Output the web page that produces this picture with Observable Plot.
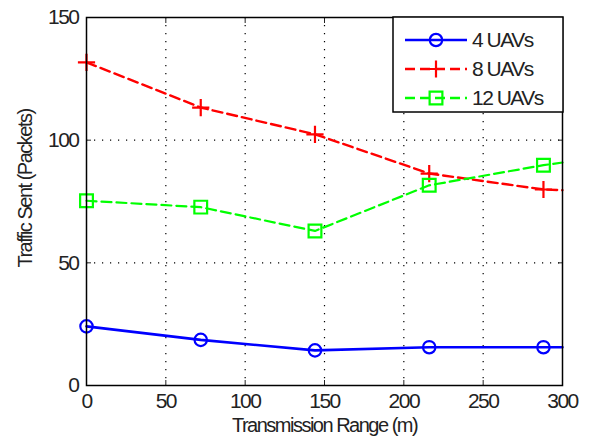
<!DOCTYPE html>
<html><head><meta charset="utf-8">
<script src="https://cdn.jsdelivr.net/npm/d3@7"></script>
<script src="https://cdn.jsdelivr.net/npm/@observablehq/plot@0.6"></script>
<style>
body{margin:0;background:#fff}
#chart{position:relative;width:589px;height:445px}
</style>
</head><body><div id="chart"></div>
<script>
// Data
const ranges = [0, 72, 144, 216, 288, 300];
const hasMarker = [true, true, true, true, true, false];
const uav4  = [24.1, 18.6, 14.3, 15.6, 15.6, 15.6];
const uav8  = [131.7, 113.3, 102.4, 86.4, 79.9, 79.6];
const uav12 = [75.3, 72.7, 63.0, 81.6, 89.8, 90.9];
const seriesNames = ["4 UAVs", "8 UAVs", "12 UAVs"];
const seriesColors = ["#0000ff", "#ff0000", "#00ff00"];
const xTicks = [0, 50, 100, 150, 200, 250, 300];
const yTicks = [0, 50, 100, 150];
const xLabel = "Transmission Range (m)";
const yLabel = "Traffic Sent (Packets)";

const FONT = "'Liberation Sans', Arial, sans-serif";
const FS = 21;
const LS = "-1.5px";

function rows(vals, name) {
  return ranges.map((x, i) => ({x, y: vals[i], series: name, marker: hasMarker[i]}));
}
const d4 = rows(uav4, seriesNames[0]);
const d8 = rows(uav8, seriesNames[1]);
const d12 = rows(uav12, seriesNames[2]);

const plot = Plot.plot({
  width: 589,
  height: 445,
  marginLeft: 86,
  marginRight: 27,
  marginTop: 17,
  marginBottom: 60,
  style: {fontFamily: FONT, fontSize: FS + "px", letterSpacing: LS, color: "#222", background: "#fff"},
  x: {domain: [0, 300]},
  y: {domain: [0, 150]},
  marks: [
    Plot.ruleX(xTicks.slice(1, -1), {stroke: "#000", strokeDasharray: "1.2,6.8", strokeWidth: 1.2}),
    Plot.ruleY(yTicks.slice(1, -1), {stroke: "#000", strokeDasharray: "1.2,6.8", strokeWidth: 1.2}),
    Plot.axisX({ticks: xTicks, tickSize: -5, tickPadding: 13, label: null, fontSize: FS}),
    Plot.axisX({ticks: xTicks, anchor: "top", tickSize: -5, tickFormat: () => "", label: null}),
    Plot.axisY({ticks: yTicks, tickSize: -5, tickPadding: 13, label: null, fontSize: FS}),
    Plot.axisY({ticks: yTicks, anchor: "right", tickSize: -5, tickFormat: () => "", label: null}),
    Plot.line(d4, {x: "x", y: "y", stroke: seriesColors[0], strokeWidth: 2.6}),
    Plot.line(d8, {x: "x", y: "y", stroke: seriesColors[1], strokeWidth: 2.4, strokeDasharray: "10,5"}),
    Plot.line(d12, {x: "x", y: "y", stroke: seriesColors[2], strokeWidth: 2.2, strokeDasharray: "10,5"}),
    Plot.dot(d4.filter(d => d.marker), {x: "x", y: "y", symbol: "circle", r: 6.2, stroke: seriesColors[0], strokeWidth: 2.2, fill: "none"}),
    Plot.dot(d8.filter(d => d.marker), {x: "x", y: "y", symbol: "plus", r: 5.6, stroke: seriesColors[1], strokeWidth: 2.2, fill: "none"}),
    Plot.dot(d12.filter(d => d.marker), {x: "x", y: "y", symbol: "square", r: 7.2, stroke: seriesColors[2], strokeWidth: 2.2, fill: "none"}),
    Plot.frame({stroke: "#000", strokeWidth: 1.5}),
    Plot.text([xLabel], {frameAnchor: "bottom", dy: 46, fontSize: 20, fill: "#222"}),
    Plot.text([yLabel], {frameAnchor: "left", textAnchor: "middle", dx: -61, dy: -13, rotate: -90, fontSize: 20, fill: "#222"})
  ]
});
document.getElementById("chart").appendChild(plot);

// Legend (MATLAB-style box in the upper right)
const svg = d3.select(plot);
const lg = svg.append("g").attr("transform", "translate(393,17)");
lg.append("rect").attr("width", 170).attr("height", 95).attr("fill", "#fff").attr("stroke", "#000").attr("stroke-width", 1.5);
const symbols = [d3.symbolCircle, d3.symbolPlus, d3.symbolSquare];
const sizes = [Math.PI * 6.2 * 6.2, Math.PI * 5.6 * 5.6, Math.PI * 7.2 * 7.2];
const dashes = [null, "10,5", "10,5"];
seriesNames.forEach((name, i) => {
  const gy = 23 + i * 29;
  lg.append("line").attr("x1", 12).attr("x2", 74).attr("y1", gy).attr("y2", gy)
    .attr("stroke", seriesColors[i]).attr("stroke-width", 2.4).attr("stroke-dasharray", dashes[i]);
  lg.append("path").attr("d", d3.symbol(symbols[i], sizes[i])()).attr("transform", `translate(43,${gy})`)
    .attr("fill", "none").attr("stroke", seriesColors[i]).attr("stroke-width", 2.2);
  lg.append("text").attr("x", 79).attr("y", gy).attr("dy", "0.35em").attr("text-anchor", "start")
    .attr("font-family", FONT).attr("font-size", FS).attr("letter-spacing", LS).attr("fill", "#222").text(name);
});
</script>
</body></html>
